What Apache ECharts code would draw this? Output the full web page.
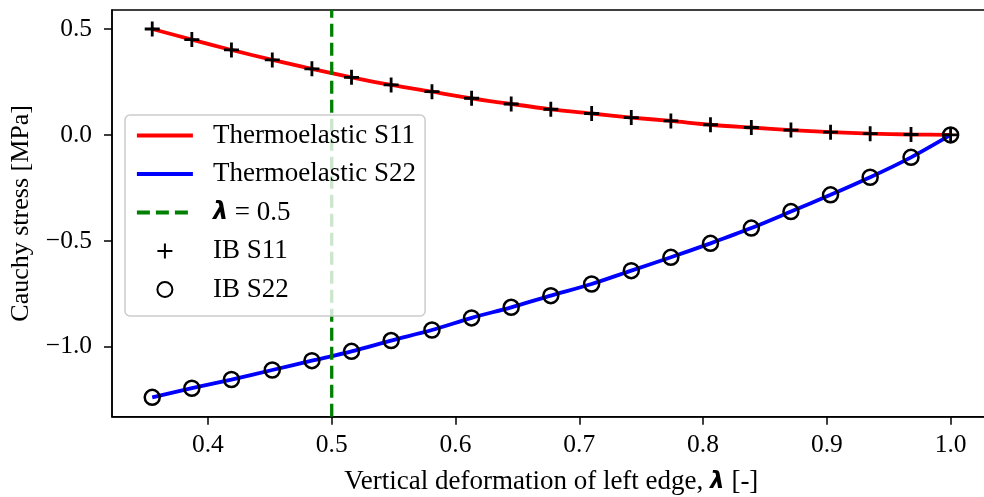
<!DOCTYPE html>
<html>
<head>
<meta charset="utf-8">
<script src="https://cdn.jsdelivr.net/npm/echarts@6/dist/echarts.min.js"></script>
<style>html,body{margin:0;padding:0;background:#fff;}#c{width:984px;height:497px;}</style>
</head>
<body>
<div id="c"></div>
<script>
const lambdaVals = [0.355, 0.387, 0.419, 0.452, 0.484, 0.516, 0.548, 0.581, 0.613, 0.645, 0.677, 0.710, 0.742, 0.774, 0.806, 0.839, 0.871, 0.903, 0.935, 0.968, 1.000];
const s11Vals = [0.500, 0.450, 0.401, 0.354, 0.312, 0.272, 0.236, 0.204, 0.173, 0.146, 0.121, 0.101, 0.082, 0.066, 0.048, 0.035, 0.023, 0.013, 0.006, 0.002, 0.000];
const s22Vals = [-1.239, -1.196, -1.155, -1.110, -1.066, -1.022, -0.971, -0.921, -0.864, -0.814, -0.759, -0.704, -0.641, -0.578, -0.512, -0.440, -0.362, -0.283, -0.200, -0.106, 0.000];
const lambdaRef = 0.5;
const xTicks = [0.4, 0.5, 0.6, 0.7, 0.8, 0.9, 1.0];
const yTicks = [-1.0, -0.5, 0.0, 0.5];
const xRange = [0.3225, 1.0323];
const yRange = [-1.3305, 0.5897];
const seriesNames = ['Thermoelastic S11', 'Thermoelastic S22', 'λ = 0.5', 'IB S11', 'IB S22'];

const FONT = "'Liberation Serif', 'Times New Roman', serif";
const pairs = (xs, ys) => xs.map((x, i) => [x, ys[i]]);
const fmt = v => (v < 0 ? '\u2212' : '') + Math.abs(v).toFixed(1);
const hiddenSym = {color: 'rgba(0,0,0,0)', borderColor: 'rgba(0,0,0,0)', borderWidth: 0};

const chart = echarts.init(document.getElementById('c'), null, {renderer: 'canvas'});
chart.setOption({
  animation: false,
  backgroundColor: '#fff',
  grid: {left: 112, top: 10, right: -6.6, bottom: 80.3, outerBoundsMode: 'none', containLabel: false,
    show: true, borderColor: '#000', borderWidth: 1.5, backgroundColor: 'transparent'},
  xAxis: {
    type: 'value', min: xRange[0], max: xRange[1],
    name: 'Vertical deformation of left edge, {i|λ} [-]',
    nameLocation: 'middle', nameGap: 52,
    nameTextStyle: {fontFamily: FONT, fontSize: 27, color: '#000',
      rich: {i: {fontFamily: 'DejaVu Sans', fontStyle: 'italic', fontWeight: 'bold', fontSize: 23, color: '#000'}}},
    axisLine: {onZero: false, lineStyle: {color: '#000', width: 1.5}},
    axisTick: {customValues: xTicks, length: 8, lineStyle: {color: '#000', width: 1.5}},
    axisLabel: {customValues: xTicks, formatter: v => fmt(v), fontFamily: FONT, fontSize: 25.5, color: '#000', margin: 16},
    splitLine: {show: false}
  },
  yAxis: {
    type: 'value', min: yRange[0], max: yRange[1],
    name: 'Cauchy stress [MPa]',
    nameLocation: 'middle', nameGap: 78,
    nameTextStyle: {fontFamily: FONT, fontSize: 26, color: '#000'},
    axisLine: {onZero: false, lineStyle: {color: '#000', width: 1.5}},
    axisTick: {customValues: yTicks, length: 8, lineStyle: {color: '#000', width: 1.5}},
    axisLabel: {customValues: yTicks, formatter: v => fmt(v), fontFamily: FONT, fontSize: 25.5, color: '#000', margin: 20},
    splitLine: {show: false}
  },
  legend: {
    orient: 'vertical', left: 125, top: 115,
    data: [
      {name: seriesNames[0], itemStyle: hiddenSym},
      {name: seriesNames[1], itemStyle: hiddenSym},
      {name: seriesNames[2], itemStyle: hiddenSym},
      {name: seriesNames[3]},
      {name: seriesNames[4]}
    ],
    itemWidth: 56, itemHeight: 15, itemGap: 11.5,
    padding: [7, 9, 13, 10],
    lineStyle: {width: 3.8},
    backgroundColor: 'rgba(255,255,255,0.8)',
    borderColor: '#cccccc', borderWidth: 1.5, borderRadius: 5,
    formatter: name => name === seriesNames[2] ? '{i|λ} = 0.5' : name,
    textStyle: {fontFamily: FONT, fontSize: 27, color: '#000', lineHeight: 26, padding: [0, 0, 0, 15],
      rich: {i: {fontFamily: 'DejaVu Sans', fontStyle: 'italic', fontWeight: 'bold', fontSize: 24, color: '#000'}}}
  },
  series: [
    {name: seriesNames[0], type: 'line', data: pairs(lambdaVals, s11Vals), symbol: 'none', smooth: 0.3,
      lineStyle: {color: '#ff0000', width: 3.8}, itemStyle: {color: '#ff0000'}, z: 2},
    {name: seriesNames[1], type: 'line', data: pairs(lambdaVals, s22Vals), symbol: 'none', smooth: 0.3,
      lineStyle: {color: '#0000ff', width: 3.8}, itemStyle: {color: '#0000ff'}, z: 2},
    {name: seriesNames[2], type: 'line', data: [[lambdaRef, yRange[0]], [lambdaRef, yRange[1]]], symbol: 'none',
      lineStyle: {color: '#008000', width: 3.3, type: [13, 6]}, itemStyle: {color: '#008000'}, z: 3},
    {name: seriesNames[3], type: 'scatter', data: pairs(lambdaVals, s11Vals),
      symbol: 'path://M5,0L5,10M0,5L10,5', symbolSize: 15,
      itemStyle: {color: 'rgba(0,0,0,0)', borderColor: '#000', borderWidth: 2.8, opacity: 1}, z: 4},
    {name: seriesNames[4], type: 'scatter', data: pairs(lambdaVals, s22Vals),
      symbol: 'circle', symbolSize: 15,
      itemStyle: {color: 'rgba(0,0,0,0)', borderColor: '#000', borderWidth: 2.5, opacity: 1}, z: 4}
  ]
});
</script>
</body>
</html>
